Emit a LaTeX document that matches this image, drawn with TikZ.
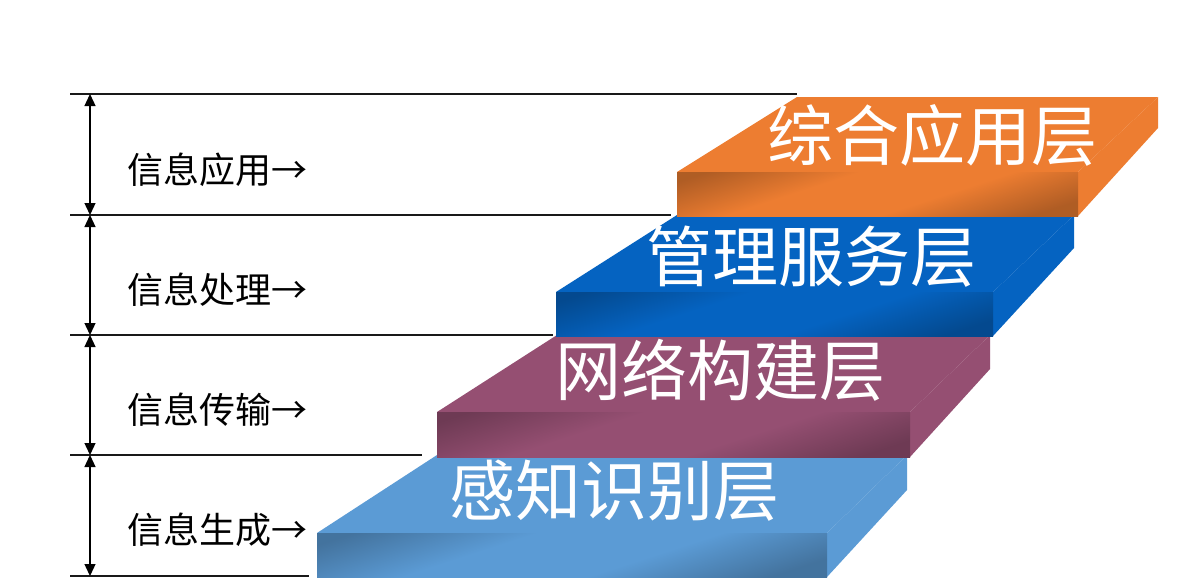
\documentclass[tikz,border=0pt]{standalone}
\usepackage{fontspec}
\newfontfamily\cjk{Noto Sans CJK SC}
\usetikzlibrary{arrows.meta}
\definecolor{cOrange}{HTML}{ED7D31}
\definecolor{cBlue}{HTML}{0563C1}
\definecolor{cPurple}{HTML}{954F72}
\definecolor{cLight}{HTML}{5B9BD5}
\colorlet{cdk}{black}
\colorlet{cbs}{white}
\pgfdeclarehorizontalshading[cdk,cbs]{frontsh}{100bp}{color(0bp)=(cdk); color(24bp)=(cdk); color(42bp)=(cbs); color(60bp)=(cbs); color(78bp)=(cdk); color(100bp)=(cdk)}
\begin{document}
\begin{tikzpicture}[x=1pt,y=-1pt,
  rule/.style={draw=black!90, line width=1.3pt},
  dim/.style={draw=black, line width=1.3pt, {Triangle[length=12pt,width=11pt]}-{Triangle[length=12pt,width=11pt]}},
  lbl/.style={font=\cjk\fontsize{36}{40}\selectfont, inner sep=0pt, anchor=west},
  slabtxt/.style={font=\cjk\fontsize{66}{70}\selectfont, text=white, inner sep=0pt},
  topface/.style={fill=#1},
  sideface/.style={fill=#1},
  frontface/.style={/utils/exec={\colorlet{cdk}{#1!74!black}\colorlet{cbs}{#1}}, shading=frontsh, shading angle=108}
]
\useasboundingbox[fill=white] (0,0) rectangle (1177,587);

% slabs, bottom to top
\fill[topface=cLight] (317,533) -- (437,455) -- (907,455) -- (827,533) -- cycle;
\fill[sideface=cLight] (827,533) -- (907,455) -- (907,490) -- (827,577) -- cycle;
\shade[frontface=cLight] (317,533) rectangle (827,577);

\fill[topface=cPurple] (437,412) -- (557,335) -- (990,335) -- (910,412) -- cycle;
\fill[sideface=cPurple] (910,412) -- (990,335) -- (990,369) -- (910,457) -- cycle;
\shade[frontface=cPurple] (437,412) rectangle (910,457);

\fill[topface=cBlue] (556,292) -- (677,215) -- (1074,215) -- (993,292) -- cycle;
\fill[sideface=cBlue] (993,292) -- (1074,215) -- (1074,248) -- (993,336) -- cycle;
\shade[frontface=cBlue] (556,292) rectangle (993,336);

\fill[topface=cOrange] (677,172) -- (797,97) -- (1158,97) -- (1078,172) -- cycle;
\fill[sideface=cOrange] (1078,172) -- (1158,97) -- (1158,128) -- (1078,216) -- cycle;
\shade[frontface=cOrange] (677,172) rectangle (1078,216);

% slab texts
\node[slabtxt] (t1) at (932,135) {综合应用层};
\node[slabtxt] (t2) at (811,257) {管理服务层};
\node[slabtxt] (t3) at (720,370) {网络构建层};
\node[slabtxt] (t4) at (614,491) {感知识别层};

% rules
\coordinate (h1a) at (70,94);  \coordinate (h1b) at (797,94);
\coordinate (h2a) at (70,215); \coordinate (h2b) at (671,215);
\coordinate (h3a) at (70,335); \coordinate (h3b) at (553,335);
\coordinate (h4a) at (70,455); \coordinate (h4b) at (422,455);
\coordinate (h5a) at (70,576); \coordinate (h5b) at (309,576);
\draw[rule] (h1a) -- (h1b);
\draw[rule] (h2a) -- (h2b);
\draw[rule] (h3a) -- (h3b);
\draw[rule] (h4a) -- (h4b);
\draw[rule] (h5a) -- (h5b);

\coordinate (v1) at (90,94);
\coordinate (v2) at (90,215);
\coordinate (v3) at (90,335);
\coordinate (v4) at (90,455);
\coordinate (v5) at (90,576);
\draw[dim] (v1) -- (v2);
\draw[dim] (v2) -- (v3);
\draw[dim] (v3) -- (v4);
\draw[dim] (v4) -- (v5);

% left labels
\node[lbl] (l1) at (127,170) {信息应用→};
\node[lbl] (l2) at (127,290) {信息处理→};
\node[lbl] (l3) at (127,410) {信息传输→};
\node[lbl] (l4) at (127,530) {信息生成→};
\end{tikzpicture}
\end{document}
